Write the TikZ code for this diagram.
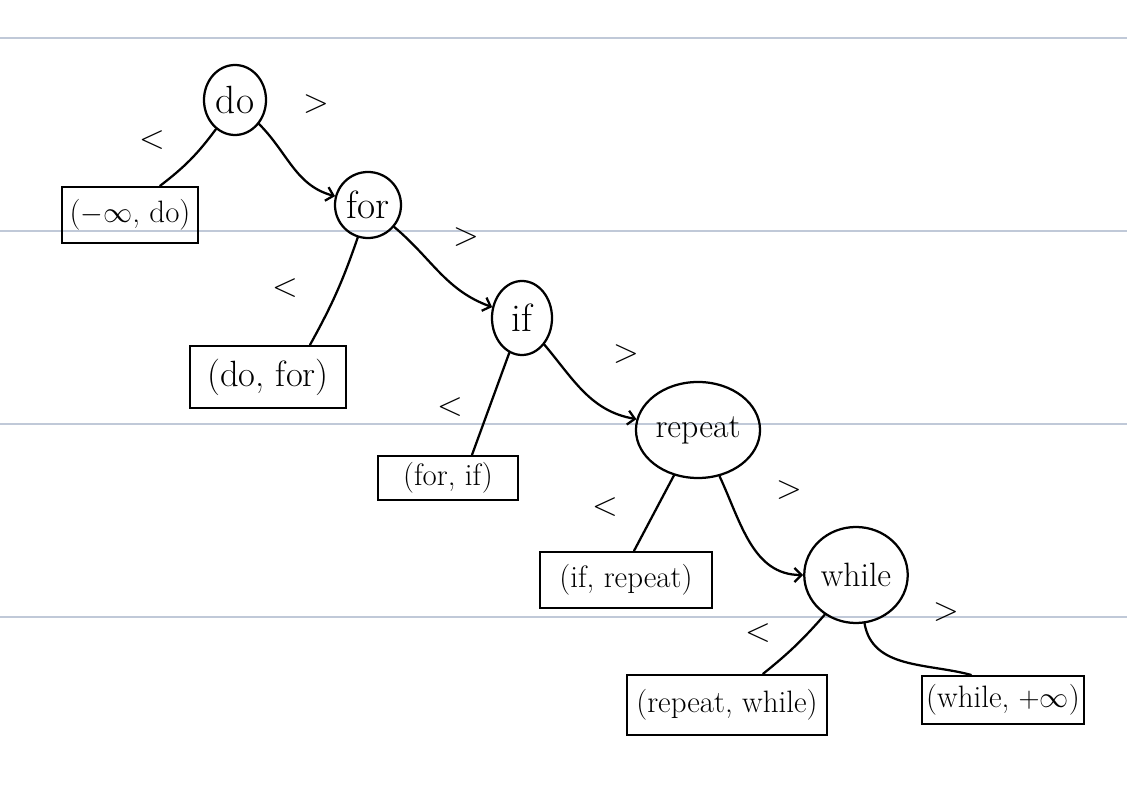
\documentclass[tikz,border=0pt]{standalone}
\usepackage{fontspec}
\usetikzlibrary{shapes.geometric,arrows.meta}
\definecolor{rulecol}{RGB}{192,201,216}
\begin{document}
\begin{tikzpicture}[x=0.025cm,y=-0.025cm,
  rule/.style={draw=rulecol,line width=1pt},
  inner/.style={ellipse,draw,line width=1.6pt,inner sep=1pt,font=\fontsize{24}{28}\selectfont},
  big/.style={font=\fontsize{28}{32}\selectfont},
  leaf/.style={rectangle,draw,line width=1.6pt,inner sep=3pt,font=\fontsize{22}{26}\selectfont},
  cmp/.style={font=\fontsize{24}{28}\selectfont},
  edge/.style={line width=1.6pt,line cap=round},
  arr/.style={edge,-{Straight Barb[length=5pt,width=10pt]}}]
\useasboundingbox (0,0) rectangle (1127,799);
\fill[white] (0,0) rectangle (1127,799);
\foreach \yy in {38,231,424,617} \draw[rule] (0,\yy) -- (1127,\yy);
% inner nodes
\node[inner,big,minimum width=1.55cm,minimum height=1.75cm] (do) at (235,100) {do};
\node[inner,big,minimum width=1.65cm,minimum height=1.65cm] (for) at (368,205) {for};
\node[inner,big,minimum width=1.5cm,minimum height=1.85cm] (if) at (522,318) {if};
\node[inner,minimum width=2.2cm,minimum height=2.4cm] (repeat) at (698,430) {repeat};
\node[inner,minimum width=2.3cm,minimum height=2.4cm] (while) at (856,575) {while};
% leaves
\node[leaf,minimum width=3.4cm,minimum height=1.4cm] (l1) at (130,215) {($-\infty$, do)};
\node[leaf,font=\fontsize{26}{30}\selectfont,minimum width=3.9cm,minimum height=1.55cm] (l2) at (268,377) {(do, for)};
\node[leaf,minimum width=3.5cm,minimum height=1.1cm] (l3) at (448,478) {(for, if)};
\node[leaf,minimum width=4.3cm,minimum height=1.4cm] (l4) at (626,580) {(if, repeat)};
\node[leaf,minimum width=5.0cm,minimum height=1.5cm] (l5) at (727,705) {(repeat, while)};
\node[leaf,minimum width=3.3cm,minimum height=1.2cm] (l6) at (1003,700) {(while, $+\infty$)};
% comparison labels
\node[cmp] (c1) at (152,140) {<};
\node[cmp] (c2) at (316,104) {>};
\node[cmp] (c3) at (285,288) {<};
\node[cmp] (c4) at (466,237) {>};
\node[cmp] (c5) at (450,407) {<};
\node[cmp] (c6) at (626,354) {>};
\node[cmp] (c7) at (605,507) {<};
\node[cmp] (c8) at (789,490) {>};
\node[cmp] (c9) at (758,633) {<};
\node[cmp] (c10) at (946,612) {>};
% connectors
\draw[edge] (do) to[bend left=8] ([xshift=0.75cm]l1.north);
\draw[arr] (do) to[out=-45,in=165] (for);
\draw[edge] (for) to[bend left=5] ([xshift=1.05cm]l2.north);
\draw[arr] (for) to[out=-40,in=160] (if);
\draw[edge] (if) -- ([xshift=0.6cm]l3.north);
\draw[arr] (if) to[out=-50,in=170] (repeat);
\draw[edge] (repeat) -- ([xshift=0.2cm]l4.north);
\draw[arr] (repeat) to[out=-65,in=180] (while);
\draw[edge] (while) to[bend left=5] ([xshift=0.9cm]l5.north);
\draw[edge] (while) to[out=-80,in=165] ([xshift=-0.8cm]l6.north);
\end{tikzpicture}
\end{document}
